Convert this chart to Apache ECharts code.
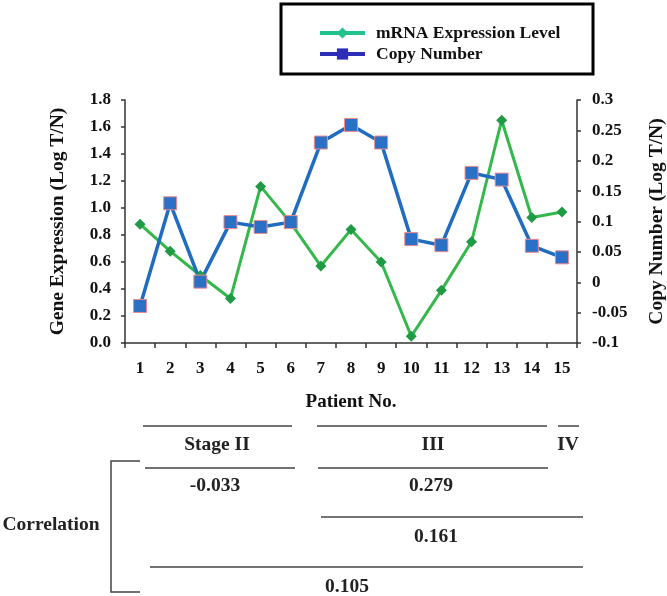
<!DOCTYPE html>
<html>
<head>
<meta charset="utf-8">
<script src="https://cdn.jsdelivr.net/npm/echarts@6/dist/echarts.min.js"></script>
<style>html,body{margin:0;padding:0;background:#fff}#c{width:667px;height:596px}</style>
</head>
<body>
<div id="c"></div>
<script>
const patients = ['1','2','3','4','5','6','7','8','9','10','11','12','13','14','15'];
const mrnaLevel = [0.88, 0.68, 0.50, 0.33, 1.16, 0.89, 0.57, 0.84, 0.60, 0.05, 0.39, 0.75, 1.65, 0.93, 0.97];
const copyNumber = [-0.039, 0.130, 0.001, 0.099, 0.091, 0.099, 0.230, 0.259, 0.230, 0.071, 0.061, 0.180, 0.169, 0.060, 0.041];
const stageLabels = ['Stage II', 'III', 'IV'];
const correlationValues = ['-0.033', '0.279', '0.161', '0.105'];

const FONT = '"Liberation Serif", "Times New Roman", serif';
const chart = echarts.init(document.getElementById('c'));

const txt = (x, y, s, size, align) => ({
  type: 'text', x: x, y: y,
  style: { text: s, font: 'bold ' + size + 'px ' + FONT, fill: '#222', align: align || 'center', verticalAlign: 'middle' }
});
const hline = (x1, x2, y) => ({
  type: 'line', shape: { x1: x1, y1: y, x2: x2, y2: y },
  style: { stroke: '#444', lineWidth: 1.5 }
});

chart.setOption({
  animation: false,
  grid: { left: 125, right: 90, top: 100, bottom: 253, outerBoundsMode: 'none', containLabel: false },
  legend: {
    left: 318, top: 24, orient: 'vertical', padding: 0,
    itemWidth: 45, itemHeight: 14, itemGap: 3,
    textStyle: { fontFamily: FONT, fontWeight: 'bold', fontSize: 17.5, color: '#111', padding: [0, 0, 0, 6] },
    data: [
      { name: 'mRNA Expression Level', itemStyle: { color: '#22c28d', borderWidth: 0 }, lineStyle: { color: '#22c28d', width: 4 } },
      { name: 'Copy Number', itemStyle: { color: '#2d2db8', borderWidth: 0 }, lineStyle: { color: '#2d2db8', width: 4 } }
    ]
  },
  xAxis: {
    type: 'category', data: patients, boundaryGap: true,
    name: 'Patient No.', nameLocation: 'middle', nameGap: 50,
    nameTextStyle: { fontFamily: FONT, fontWeight: 'bold', fontSize: 19, color: '#111' },
    axisLine: { lineStyle: { color: '#333', width: 1.5 } },
    axisTick: { show: true, length: 5, alignWithLabel: false, lineStyle: { color: '#333', width: 1.5 } },
    axisLabel: { margin: 17, fontFamily: FONT, fontWeight: 'bold', fontSize: 17, color: '#111' }
  },
  yAxis: [
    {
      type: 'value', min: 0, max: 1.8, interval: 0.2, position: 'left',
      name: 'Gene Expression (Log T/N)', nameLocation: 'middle', nameGap: 57,
      nameTextStyle: { fontFamily: FONT, fontWeight: 'bold', fontSize: 19.5, color: '#111' },
      axisLine: { show: true, lineStyle: { color: '#333', width: 1.5 } },
      axisTick: { show: true, length: 4, lineStyle: { color: '#333', width: 1.5 } },
      splitLine: { show: false },
      axisLabel: { margin: 14, fontFamily: FONT, fontWeight: 'bold', fontSize: 17, color: '#111',
        formatter: v => v.toFixed(1) }
    },
    {
      type: 'value', min: -0.1, max: 0.3, interval: 0.05, position: 'right',
      name: 'Copy Number (Log T/N)', nameLocation: 'middle', nameGap: 70,
      nameTextStyle: { fontFamily: FONT, fontWeight: 'bold', fontSize: 19.5, color: '#111' },
      axisLine: { show: true, lineStyle: { color: '#333', width: 1.5 } },
      axisTick: { show: true, length: 4, lineStyle: { color: '#333', width: 1.5 } },
      splitLine: { show: false },
      axisLabel: { margin: 15, fontFamily: FONT, fontWeight: 'bold', fontSize: 17, color: '#111',
        formatter: v => String(Number(v.toFixed(2))) }
    }
  ],
  series: [
    {
      name: 'mRNA Expression Level', type: 'line', yAxisIndex: 0, data: mrnaLevel,
      symbol: 'diamond', symbolSize: 11, showAllSymbol: true,
      lineStyle: { color: '#34b84c', width: 3 },
      itemStyle: { color: '#1f9a45' }
    },
    {
      name: 'Copy Number', type: 'line', yAxisIndex: 1, data: copyNumber,
      symbol: 'rect', symbolSize: 13, showAllSymbol: true,
      lineStyle: { color: '#1f6cc0', width: 3.5 },
      itemStyle: { color: '#2a70c6', borderColor: '#f08a8a', borderWidth: 1 }
    }
  ],
  graphic: [
    { type: 'rect', shape: { x: 281, y: 4, width: 312, height: 70 }, style: { fill: 'none', stroke: '#000', lineWidth: 3 } },
    hline(143, 292, 426), hline(317, 547, 426), hline(558, 579, 426),
    txt(217, 445, stageLabels[0], 19.5), txt(433, 445, stageLabels[1], 19.5), txt(568, 445, stageLabels[2], 19.5),
    hline(145, 295, 468), hline(318, 548, 468),
    txt(215, 486, correlationValues[0], 19.5), txt(431, 486, correlationValues[1], 19.5),
    hline(321, 583, 517),
    txt(436, 537, correlationValues[2], 19.5),
    hline(150, 583, 567),
    txt(347, 587, correlationValues[3], 19.5),
    { type: 'polyline', shape: { points: [[140, 461], [111, 461], [111, 592], [140, 592]] }, style: { stroke: '#444', lineWidth: 1.5, fill: 'none' } },
    txt(51, 525, 'Correlation', 19.5)
  ]
});
</script>
</body>
</html>
